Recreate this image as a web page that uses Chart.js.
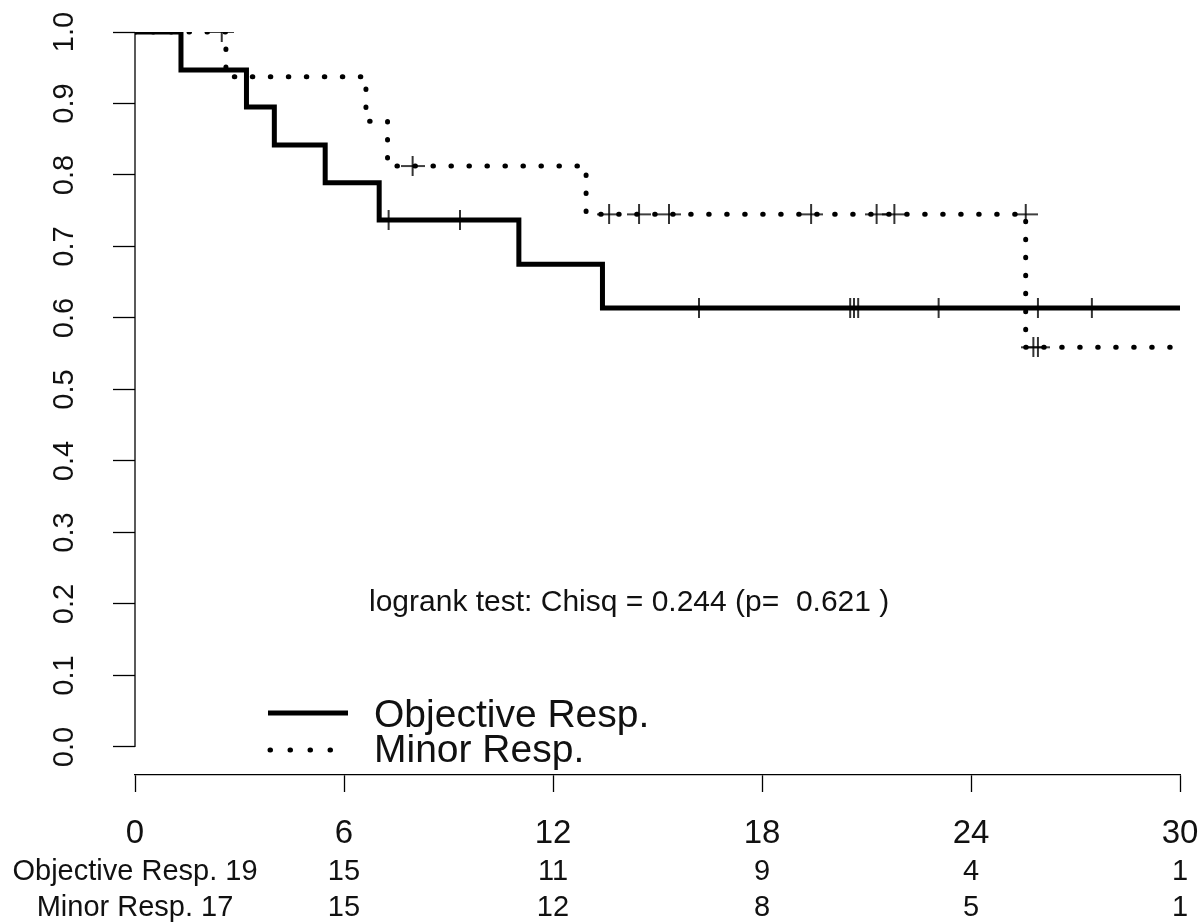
<!DOCTYPE html>
<html>
<head>
<meta charset="utf-8">
<script src="https://cdn.jsdelivr.net/npm/chart.js@4.4.0/dist/chart.umd.min.js"></script>
<style>
  body { margin: 0; background: #fff; }
  #wrap { width: 1201px; height: 922px; position: relative; }
</style>
</head>
<body>
<div id="wrap"><canvas id="km"></canvas></div>
<script>
// Kaplan-Meier steps (time in months, survival)
const objTimes = [0, 1.32, 3.2, 4.0, 5.46, 7.01, 11.02, 13.42, 30];
const objSurv = [1, 0.947, 0.895, 0.842, 0.789, 0.737, 0.675, 0.614, 0.614];
const objCensor = [7.28, 9.33, 16.19, 20.53, 20.64, 20.76, 23.07, 25.92, 27.47];

const minTimes = [0, 2.61, 6.63, 7.25, 12.95, 25.57, 29.76];
const minSurv = [1, 0.9375, 0.875, 0.8125, 0.745, 0.559, 0.559];
const minCensor = [2.49, 7.97, 13.61, 14.47, 15.33, 19.41, 21.29, 21.80, 25.57, 25.79, 25.92];

const groups = ['Objective Resp.', 'Minor Resp.'];
const riskTimes = [0, 6, 12, 18, 24, 30];
const objRisk = [19, 15, 11, 9, 4, 1];
const minRisk = [17, 15, 12, 8, 5, 1];

const xTicks = [0, 6, 12, 18, 24, 30];
const yTicks = [0, 0.1, 0.2, 0.3, 0.4, 0.5, 0.6, 0.7, 0.8, 0.9, 1.0];
const testText = 'logrank test: Chisq = 0.244 (p=  0.621 )';

const FONT = '"Liberation Sans", Arial, sans-serif';

// survival just before time t (censor marks sit on the curve)
function survAt(times, surv, t) {
  let s = surv[0];
  for (let i = 0; i < times.length; i++) {
    if (times[i] < t) s = surv[i];
  }
  return s;
}

function steps(times, surv) {
  return times.map((t, i) => ({ x: t, y: surv[i] }));
}

function marks(times, surv, cens) {
  return cens.map(t => ({ x: t, y: survAt(times, surv, t) }));
}

function makeCross(w, h, lw) {
  const c = document.createElement('canvas');
  c.width = w; c.height = h;
  const g = c.getContext('2d');
  g.strokeStyle = '#000';
  g.lineWidth = lw;
  g.beginPath();
  g.moveTo(0, h / 2); g.lineTo(w, h / 2);
  g.moveTo(w / 2, 0); g.lineTo(w / 2, h);
  g.stroke();
  return c;
}
const cross = makeCross(24, 20, 1.6);

const extras = {
  id: 'extras',
  afterDraw(chart) {
    const ctx = chart.ctx;
    const x = chart.scales.x;
    ctx.save();
    ctx.fillStyle = '#111';

    // test result
    ctx.font = '30px ' + FONT;
    ctx.textAlign = 'left';
    ctx.textBaseline = 'middle';
    ctx.fillText(testText, 369, 603);

    // legend
    ctx.strokeStyle = '#000';
    ctx.lineWidth = 5;
    ctx.beginPath();
    ctx.moveTo(268, 713); ctx.lineTo(348, 713);
    ctx.stroke();
    ctx.lineCap = 'round';
    ctx.setLineDash([0.5, 19.5]);
    ctx.beginPath();
    ctx.moveTo(270, 750); ctx.lineTo(340, 750);
    ctx.stroke();
    ctx.setLineDash([]);
    ctx.font = '39px ' + FONT;
    ctx.fillText(groups[0], 374, 716);
    ctx.fillText(groups[1], 374, 751);

    // number at risk
    ctx.font = '29px ' + FONT;
    ctx.textAlign = 'center';
    const rows = [objRisk, minRisk];
    const rowY = [872, 908];
    rows.forEach((r, k) => {
      r.forEach((n, i) => {
        const px = x.getPixelForValue(riskTimes[i]);
        const label = i == 0 ? groups[k] + ' ' + n : String(n);
        ctx.fillText(label, px, rowY[k]);
      });
    });
    ctx.restore();
  }
};

new Chart(document.getElementById('km'), {
  type: 'line',
  data: {
    datasets: [
      {
        label: groups[0],
        data: steps(objTimes, objSurv),
        stepped: true,
        borderColor: '#000',
        borderWidth: 5,
        pointRadius: 0,
        fill: false
      },
      {
        label: groups[1],
        data: steps(minTimes, minSurv),
        stepped: true,
        borderColor: '#000',
        borderWidth: 5,
        borderDash: [0.5, 17.5],
        borderCapStyle: 'round',
        pointRadius: 0,
        fill: false
      },
      {
        label: 'obj censored',
        data: marks(objTimes, objSurv, objCensor),
        showLine: false,
        pointStyle: cross,
        pointRadius: 5
      },
      {
        label: 'minor censored',
        data: marks(minTimes, minSurv, minCensor),
        showLine: false,
        pointStyle: cross,
        pointRadius: 5
      },
      {
        label: 'y axis',
        data: [{ x: 0, y: 0 }, { x: 0, y: 1 }],
        borderColor: '#000',
        borderWidth: 1.3,
        pointRadius: 0,
        clip: 4
      }
    ]
  },
  options: {
    responsive: true,
    maintainAspectRatio: false,
    animation: false,
    layout: { padding: { top: 32, right: 21, left: 0, bottom: 0 } },
    plugins: {
      legend: { display: false },
      tooltip: { enabled: false }
    },
    scales: {
      x: {
        type: 'linear',
        min: 0,
        max: 30,
        afterBuildTicks: s => { s.ticks = xTicks.map(v => ({ value: v })); },
        afterFit: s => { s.height = 147; s.paddingLeft = 0; s.paddingRight = 0; },
        border: { display: true, color: '#000', width: 1.3 },
        grid: { drawOnChartArea: false, tickLength: 17, tickColor: '#000', tickWidth: 1.3 },
        ticks: { autoSkip: false, maxRotation: 0, padding: 22, color: '#111', font: { family: FONT, size: 33 } }
      },
      y: {
        type: 'linear',
        min: -0.0392,
        max: 1,
        afterBuildTicks: s => { s.ticks = yTicks.map(v => ({ value: v })); },
        afterFit: s => { s.width = 135; s.paddingTop = 0; s.paddingBottom = 0; },
        border: { display: false },
        grid: { drawOnChartArea: false, tickLength: 22, tickColor: '#000', tickWidth: 1.3 },
        ticks: {
          autoSkip: false,
          minRotation: 90,
          maxRotation: 90,
          crossAlign: 'center',
          padding: 28,
          color: '#111',
          font: { family: FONT, size: 29 },
          callback: v => v.toFixed(1)
        }
      }
    }
  },
  plugins: [extras]
});
</script>
</body>
</html>
